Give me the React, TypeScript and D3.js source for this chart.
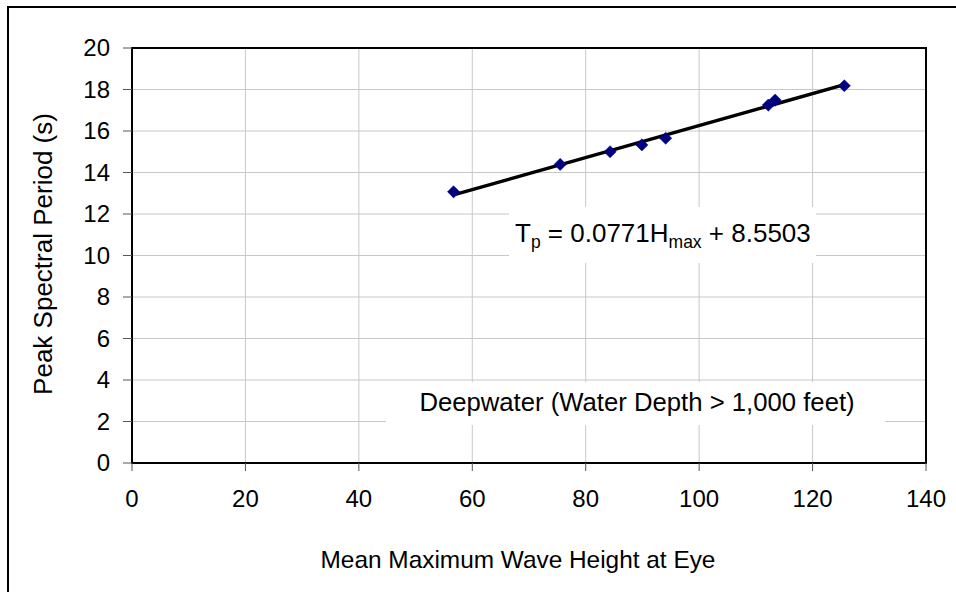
import React from 'react';
import * as d3 from 'd3';

const hmax = [56.7, 75.5, 84.3, 89.9, 94.1, 112.2, 113.4, 125.6];
const peakPeriod = [13.07, 14.39, 15.0, 15.33, 15.65, 17.25, 17.49, 18.18];
const xTicks = [0, 20, 40, 60, 80, 100, 120, 140];
const yTicks = [0, 2, 4, 6, 8, 10, 12, 14, 16, 18, 20];
const slope = 0.0771;
const intercept = 8.5503;

const W = 956;
const H = 592;
const plot = { left: 132, right: 926, top: 48, bottom: 463 };
const FONT = '"Liberation Sans", Arial, sans-serif';

const App: React.FC = () => {
  const x = d3.scaleLinear().domain([0, 140]).range([plot.left, plot.right]);
  const y = d3.scaleLinear().domain([0, 20]).range([plot.bottom, plot.top]);

  const [x0, x1] = d3.extent(hmax) as [number, number];
  const trend = d3.line<number>()
    .x(d => x(d))
    .y(d => y(slope * d + intercept))([x0, x1]) || '';

  const diamond = d3.symbol().type(d3.symbolDiamond2).size(95)() || '';

  return (
    <div style={{ position: 'absolute', left: 0, top: 0 }}>
      <svg width={W} height={H} style={{ display: 'block', fontFamily: FONT }}>
        <rect x={0} y={0} width={W} height={H} fill="#fff" />
        {/* outer chart frame (runs past right/bottom edges) */}
        <rect x={8} y={7} width={W + 20} height={H + 20} fill="none" stroke="#000" strokeWidth={2} />

        {/* gridlines */}
        {yTicks.filter(t => t > 0 && t < 20).map(t => (
          <line key={`gy${t}`} x1={plot.left} x2={plot.right} y1={y(t)} y2={y(t)} stroke="#c8c8c8" strokeWidth={1} />
        ))}
        {xTicks.filter(t => t > 0 && t < 140).map(t => (
          <line key={`gx${t}`} x1={x(t)} x2={x(t)} y1={plot.top} y2={plot.bottom} stroke="#c8c8c8" strokeWidth={1} />
        ))}

        {/* plot border */}
        <rect x={plot.left} y={plot.top} width={plot.right - plot.left} height={plot.bottom - plot.top}
          fill="none" stroke="#000" strokeWidth={2} />

        {/* ticks */}
        {yTicks.map(t => (
          <g key={`ty${t}`}>
            <line x1={plot.left - 9} x2={plot.left} y1={y(t)} y2={y(t)} stroke="#555" strokeWidth={1} />
            <text x={plot.left - 22} y={y(t)} dy="0.35em" textAnchor="end" fontSize={24} fill="#000">{t}</text>
          </g>
        ))}
        {xTicks.map(t => (
          <g key={`tx${t}`}>
            <line x1={x(t)} x2={x(t)} y1={plot.bottom} y2={plot.bottom + 8} stroke="#555" strokeWidth={1} />
            <text x={x(t)} y={507} textAnchor="middle" fontSize={24} fill="#000">{t}</text>
          </g>
        ))}

        {/* annotation boxes */}
        <rect x={509} y={207} width={307} height={56} fill="#fff" />
        <text x={515} y={242} fontSize={26} fill="#000">
          T<tspan fontSize={17.5} dy={6}>p</tspan>
          <tspan dy={-6}> = 0.0771H</tspan>
          <tspan fontSize={17.5} dy={6}>max</tspan>
          <tspan dy={-6}> + 8.5503</tspan>
        </text>
        <rect x={386} y={382} width={499} height={43} fill="#fff" />
        <text x={637} y={411} textAnchor="middle" fontSize={25.7} fill="#000">Deepwater (Water Depth &gt; 1,000 feet)</text>

        {/* trendline */}
        <path d={trend} fill="none" stroke="#000" strokeWidth={3.5} />

        {/* data */}
        {hmax.map((h, i) => (
          <path key={i} d={diamond} transform={`translate(${x(h)},${y(peakPeriod[i])})`} fill="#000080" stroke="#000080" strokeWidth={0.5} />
        ))}

        {/* axis titles */}
        <text x={(plot.left + plot.right) / 2 - 11} y={568} textAnchor="middle" fontSize={24.4} fill="#000">
          Mean Maximum Wave Height at Eye
        </text>
        <text transform={`translate(52,254) rotate(-90)`} textAnchor="middle" fontSize={26} fill="#000">
          Peak Spectral Period (s)
        </text>
      </svg>
    </div>
  );
};

export default App;
